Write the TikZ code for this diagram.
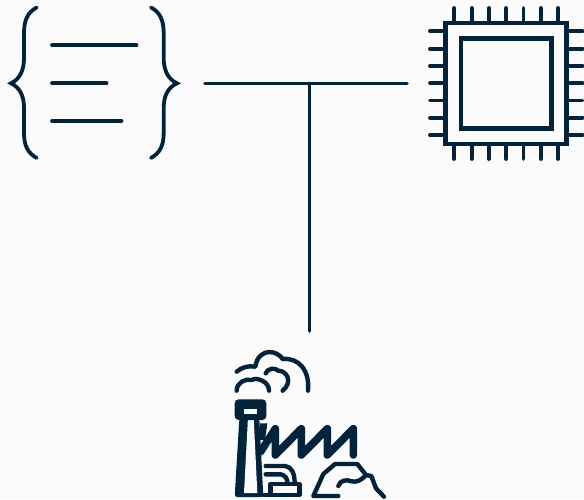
\documentclass[tikz,border=0pt]{standalone}
\definecolor{ink}{HTML}{01233B}
\definecolor{paper}{HTML}{FBFBFC}
\tikzset{
  ln/.style={draw=ink,line width=3.6pt,line cap=round,line join=round},
  brace/.style={draw=ink,line width=3.8pt,line cap=round,line join=miter},
  txtline/.style={draw=ink,line width=3.7pt,line cap=round},
  chipbox/.style={draw=ink,line width=4.6pt,line join=miter},
  pin/.style={draw=ink,line width=3.8pt,line cap=round},
  fac/.style={draw=ink,line width=4.4pt,line cap=round,line join=round},
  facz/.style={x=0.33333pt,y=-0.33333pt,shift={(210pt,-340pt)}}
}
\begin{document}
\begin{tikzpicture}[x=1pt,y=-1pt]
\fill[paper] (0,0) rectangle (584,499);
\useasboundingbox (0,0) rectangle (584,499);
% connectors
\coordinate (barL) at (205,83.4);
\coordinate (barR) at (407,83.4);
\coordinate (barM) at (309.5,83.4);
\coordinate (stemEnd) at (309.5,331);
\draw[ln] (barL) -- (barR);
\draw[ln] (barM) -- (stemEnd);
% braces icon
\draw[brace] (36.7,7.5) .. controls (28,12) and (24,20) .. (24,33) -- (24,58) .. controls (24,70) and (20,79) .. (11,83.3) .. controls (20,87.6) and (24,96) .. (24,108) -- (24,133) .. controls (24,146) and (28,153) .. (36.7,158);
\draw[brace] (151,7.5) .. controls (159.7,12) and (163.7,20) .. (163.7,33) -- (163.7,58) .. controls (163.7,70) and (167.7,79) .. (177,83.3) .. controls (167.7,87.6) and (163.7,96) .. (163.7,108) -- (163.7,133) .. controls (163.7,146) and (159.7,153) .. (151,158);
\draw[txtline] (52,45.3) -- (136.5,45.3);
\draw[txtline] (52,83.3) -- (106.5,83.3);
\draw[txtline] (52,121) -- (121.5,121);
% chip icon
\draw[chipbox] (445.5,23) rectangle (566.5,144);
\draw[chipbox] (461,38.3) rectangle (551.3,128.7);
\foreach \p in {454.3,471.6,488.9,506.2,523.5,540.8,558.1} {
  \draw[pin] (\p,8) -- (\p,22);
  \draw[pin] (\p,145) -- (\p,159);
}
\foreach \p in {31.3,48.6,65.9,83.2,100.5,117.8,135.1} {
  \draw[pin] (430,\p) -- (444,\p);
  \draw[pin] (568,\p) -- (582.5,\p);
}
% factory icon
\begin{scope}[facz]
  % smoke
  \draw[fac] (80,95) .. controls (95,82) and (115,76) .. (136,80) .. controls (140,50) and (160,36) .. (178,36) .. controls (195,36) and (210,45) .. (218,57) .. controls (265,52) and (300,90) .. (294,152);
  \draw[fac] (167,100) .. controls (172,85) and (195,82) .. (205,92) .. controls (230,92) and (250,125) .. (218,152);
  \draw[fac] (80,152) .. controls (80,128) and (105,115) .. (125,120) .. controls (140,110) and (178,125) .. (177,152);
  % saw-tooth roof
  \draw[fac,line width=7.6pt] (152,335) -- (196,266) -- (196,345) -- (274,266) -- (274,345) -- (352,266) -- (352,345) -- (430,266) -- (430,345);
  \fill[ink] (150,250) -- (172,250) -- (165,300) -- (150,300) -- cycle;
  % chimney
  \fill[ink,rounded corners=2.5pt] (88,236) -- (74,471) -- (160,471) -- (148,236) -- cycle;
  \fill[paper] (114,232) -- (131,232) -- (142,459) -- (102,459) -- cycle;
  \fill[ink,rounded corners=4pt] (74,178) rectangle (169,240);
  \fill[paper] (102,207) rectangle (142,221);
  % small building
  \draw[fac] (167,378) -- (225,378) .. controls (245,380) and (254,400) .. (254,430);
  \draw[fac] (167,403) -- (212,403) .. controls (225,405) and (232,415) .. (233,430);
  \draw[fac] (182,465) -- (182,432) -- (268,432) -- (268,465) -- (160,465);
  % hill
  \draw[fac] (385,468) -- (310,468) -- (340,402) -- (375,372) -- (442,372) -- (468,405) -- (484,408) -- (498,445) -- (522,470);
  \draw[fac] (385,438) .. controls (390,420) and (410,418) .. (425,424) .. controls (440,428) and (455,420) .. (468,405);
\end{scope}
\end{tikzpicture}
\end{document}
